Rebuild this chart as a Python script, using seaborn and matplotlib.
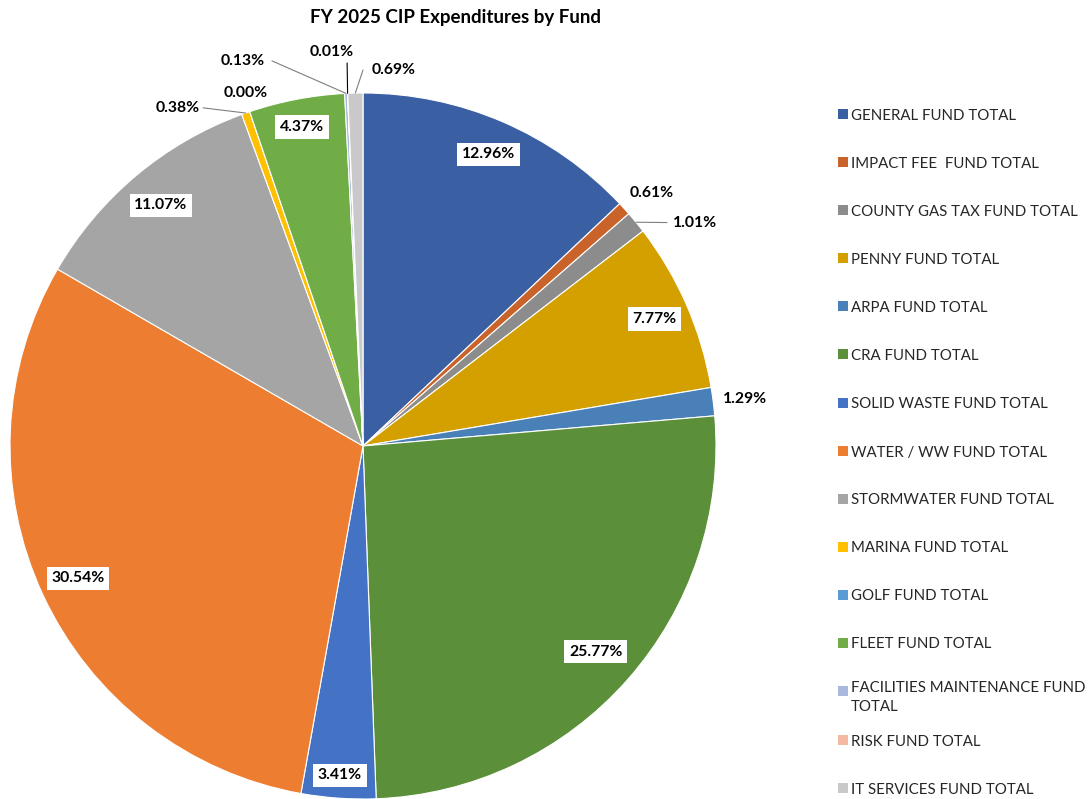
import numpy as np
import matplotlib
matplotlib.use("Agg")
import matplotlib.pyplot as plt
import seaborn as sns
from matplotlib.patches import Rectangle

sns.set_theme(style="white")
plt.rcParams["font.family"] = ["Lato", "DejaVu Sans"]

funds = [
    "GENERAL FUND TOTAL",
    "IMPACT FEE  FUND TOTAL",
    "COUNTY GAS TAX FUND TOTAL",
    "PENNY FUND TOTAL",
    "ARPA FUND TOTAL",
    "CRA FUND TOTAL",
    "SOLID WASTE FUND TOTAL",
    "WATER / WW FUND TOTAL",
    "STORMWATER FUND TOTAL",
    "MARINA FUND TOTAL",
    "GOLF FUND TOTAL",
    "FLEET FUND TOTAL",
    "FACILITIES MAINTENANCE FUND\nTOTAL",
    "RISK FUND TOTAL",
    "IT SERVICES FUND TOTAL",
]
shares = [12.96, 0.61, 1.01, 7.77, 1.29, 25.77, 3.41, 30.54, 11.07,
          0.38, 0.00, 4.37, 0.13, 0.01, 0.69]
colors = ["#3A5FA3", "#C9632A", "#8C8C8C", "#D4A000", "#4A80B8", "#5B8F3A",
          "#4472C4", "#ED7D31", "#A5A5A5", "#FFC000", "#5B9BD5", "#70AD47",
          "#A9B8DD", "#F4B9A0", "#C9C9C9"]

# label placement for the thin slices: (text x, text y, leader end x, leader end y)
outside = {
    1: (0.818, 0.717, None, None),
    2: (0.940, 0.632, 0.861, 0.633),
    4: (1.082, 0.133, None, None),
    9: (-0.524, 0.958, -0.453, 0.958),
    10: (-0.331, 1.000, None, None),
    12: (-0.340, 1.091, -0.258, 1.091),
    13: (-0.088, 1.116, -0.045, 1.085),
    14: (0.088, 1.065, 0.0, 1.065),
}
# radial position (fraction of radius) of the boxed labels inside larger slices
inside_r = {0: 0.90, 3: 0.90, 5: 0.88, 6: 0.935, 7: 0.89, 8: 0.89, 11: 0.92}

fig = plt.figure(figsize=(10.91, 7.99), dpi=100)
R = 353
ax = fig.add_axes([(363 - R) / 1091, 0.0, 2 * R / 1091, 2 * R / 799])

ax.pie(shares, colors=colors, startangle=90, counterclock=False, radius=1.0,
       wedgeprops=dict(edgecolor="white", linewidth=0.8))
ax.set_xlim(-1, 1)
ax.set_ylim(-1, 1)
ax.set_aspect("equal")
ax.axis("off")

total = sum(shares)
cum = np.cumsum([0] + shares)
for i, v in enumerate(shares):
    mid = (cum[i] + v / 2) / total * 360.0
    ang = np.deg2rad(mid)
    ex, ey = np.sin(ang), np.cos(ang)
    label = f"{v:.2f}%"
    if i in outside:
        tx, ty, lx, ly = outside[i]
        if lx is not None:
            lc = "black" if i == 13 else "#7F7F7F"
            ax.plot([ex, lx], [ey, ly], color=lc, lw=0.8, clip_on=False)
        ax.text(tx, ty, label, ha="center", va="center", fontsize=11.3,
                fontweight="bold", color="black", clip_on=False)
    else:
        r = inside_r.get(i, 0.9)
        ax.text(ex * r, ey * r, label, ha="center", va="center", fontsize=11.3,
                fontweight="bold", color="black",
                bbox=dict(boxstyle="square,pad=0.3", fc="white", ec="none"))

fig.text(456 / 1091, 1 - 18 / 799, "FY 2025 CIP Expenditures by Fund",
         ha="center", va="center", fontsize=13.5, fontweight="bold", color="black")

# legend column
row_y = [114, 162, 210, 258, 306, 354, 403, 451, 499, 547, 595, 643, 691, 740, 788]
for name, c, y in zip(funds, colors, row_y):
    fig.add_artist(Rectangle((838 / 1091, 1 - (y + 5) / 799), 10 / 1091, 10 / 799,
                             transform=fig.transFigure, fc=c, ec="none"))
    if "\n" in name:
        fig.text(851 / 1091, 1 - (y - 10) / 799, name, ha="left", va="top",
                 fontsize=10.8, color="#262626", linespacing=1.45)
    else:
        fig.text(851 / 1091, 1 - (y + 1.5) / 799, name, ha="left", va="center",
                 fontsize=10.8, color="#262626")

fig.savefig("out.png", dpi=100)
